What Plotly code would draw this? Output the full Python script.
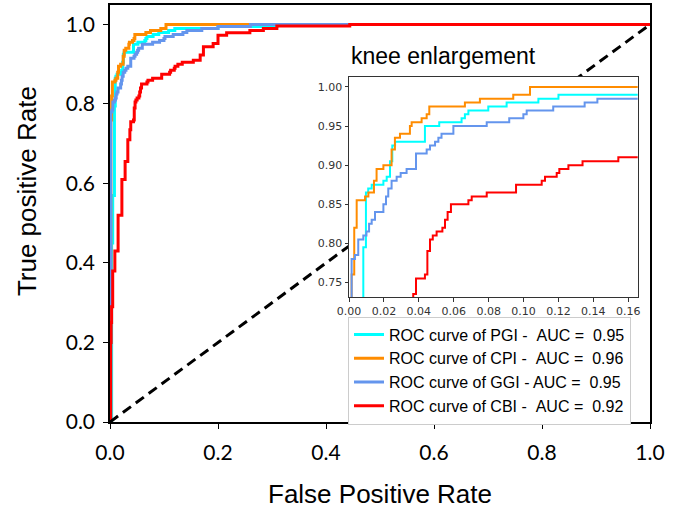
import plotly.graph_objects as go

# ---------------- data ----------------
series_names = ["PGI", "CPI", "GGI", "CBI"]
auc_values = ["0.95", "0.96", "0.95", "0.92"]

fpr_pgi = [0, 0.003, 0.005, 0.0082, 0.0097, 0.011, 0.013, 0.0197, 0.0216, 0.0235, 0.0248, 0.0264,
           0.0435, 0.0517, 0.0645, 0.0664, 0.0684, 0.0798, 0.0903, 0.1085, 0.12, 0.2, 0.309, 1.0]
tpr_pgi = [0, 0.45, 0.57, 0.795, 0.865, 0.87, 0.875, 0.88, 0.885, 0.905, 0.925, 0.93,
           0.95, 0.955, 0.96, 0.965, 0.97, 0.975, 0.98, 0.985, 0.99, 0.995, 1.0, 1.0]

fpr_cpi = [0, 0.0015, 0.003, 0.0044, 0.0092, 0.0111, 0.0143, 0.0158, 0.0197, 0.0244, 0.0263, 0.0292,
           0.0349, 0.0359, 0.0416, 0.0445, 0.046, 0.0664, 0.075, 0.0941, 0.1037, 1.0]
tpr_cpi = [0, 0.76, 0.82, 0.855, 0.86, 0.865, 0.88, 0.895, 0.9, 0.92, 0.935, 0.94,
           0.95, 0.955, 0.96, 0.965, 0.975, 0.98, 0.985, 0.99, 1.0, 1.0]

fpr_ggi = [0, 0.0015, 0.0034, 0.0053, 0.0082, 0.01, 0.0115, 0.013, 0.0149, 0.0197, 0.0212, 0.0225,
           0.0244, 0.0273, 0.0296, 0.033, 0.0384, 0.0445, 0.0464, 0.0493, 0.0512, 0.053, 0.0598,
           0.0789, 0.0918, 0.0999, 0.1018, 0.117, 0.135, 0.1423, 0.17, 0.2, 0.26, 1.0]
tpr_ggi = [0, 0.78, 0.785, 0.805, 0.81, 0.815, 0.825, 0.83, 0.84, 0.85, 0.86, 0.87,
           0.88, 0.885, 0.89, 0.895, 0.915, 0.92, 0.925, 0.93, 0.935, 0.94, 0.95,
           0.955, 0.96, 0.965, 0.97, 0.975, 0.98, 0.985, 0.99, 0.995, 1.0, 1.0]

fpr_cbi = [0, 0.001, 0.002, 0.003, 0.005, 0.009, 0.015, 0.022, 0.028, 0.033, 0.0368, 0.0384,
           0.0435, 0.0449, 0.0464, 0.048, 0.0502, 0.0535, 0.055, 0.0565, 0.0584, 0.0684, 0.0703,
           0.0789, 0.0957, 0.1104, 0.1123, 0.119, 0.1205, 0.1257, 0.1338, 0.1543, 0.167, 0.173,
           0.191, 0.2, 0.216, 0.259, 0.284, 0.309, 0.444, 1.0]
tpr_cbi = [0, 0.2, 0.25, 0.29, 0.38, 0.43, 0.52, 0.61, 0.655, 0.71, 0.735, 0.755,
           0.76, 0.79, 0.805, 0.81, 0.815, 0.82, 0.83, 0.84, 0.85, 0.855, 0.86,
           0.865, 0.875, 0.88, 0.885, 0.89, 0.895, 0.9, 0.905, 0.91, 0.923, 0.944,
           0.952, 0.973, 0.979, 0.985, 0.99, 0.996, 1.0, 1.0]

chance_x = [0, 1]
chance_y = [0, 1]

main_ticks = [0.0, 0.2, 0.4, 0.6, 0.8, 1.0]
inset_x_ticks = [0.0, 0.02, 0.04, 0.06, 0.08, 0.10, 0.12, 0.14, 0.16]
inset_y_ticks = [0.75, 0.80, 0.85, 0.90, 0.95, 1.00]

colors = ["#00FFFF", "#FF8C00", "#6495ED", "#FF0000"]
NB = "\u00a0"
legend_labels = [
    f"ROC curve of PGI -{NB}{NB}AUC ={NB}{NB}0.95",
    f"ROC curve of CPI -{NB}{NB}AUC ={NB}{NB}0.96",
    f"ROC curve of GGI - AUC ={NB}{NB}0.95",
    f"ROC curve of CBI -{NB}{NB}AUC ={NB}{NB}0.92",
]
curves = [(fpr_pgi, tpr_pgi), (fpr_cpi, tpr_cpi), (fpr_ggi, tpr_ggi), (fpr_cbi, tpr_cbi)]

fig = go.Figure()

# main curves
for (fx, ty), c, lab in zip(curves, colors, legend_labels):
    fig.add_trace(go.Scatter(x=fx, y=ty, mode="lines", line=dict(color=c, width=3, shape="hv"),
                             name=lab, xaxis="x", yaxis="y"))

fig.add_trace(go.Scatter(x=chance_x, y=chance_y, mode="lines",
                         line=dict(color="black", width=3, dash="10px,6px"),
                         showlegend=False, xaxis="x", yaxis="y", hoverinfo="skip"))

# inset background (hides main-plot content underneath)
fig.add_trace(go.Scatter(x=[-1, 1, 1, -1], y=[0, 0, 2, 2], fill="toself", fillcolor="white",
                         mode="lines", line=dict(width=0, color="white"),
                         showlegend=False, xaxis="x2", yaxis="y2", hoverinfo="skip"))

for (fx, ty), c in zip(curves, colors):
    fig.add_trace(go.Scatter(x=fx, y=ty, mode="lines", line=dict(color=c, width=2, shape="hv"),
                             showlegend=False, xaxis="x2", yaxis="y2"))

L, R, T, B = 110, 41, 3, 91
W, H = 691, 513
pw, ph = W - L - R, H - T - B


def px_x(p):
    return (p - L) / pw


def px_y(p):
    return (H - B - p) / ph


main_tickfont = dict(family="Lato, Open Sans, sans-serif", size=21, color="black")
inset_tickfont = dict(family="DejaVu Sans", size=11, color="#333")

fig.update_layout(
    width=W, height=H,
    margin=dict(l=L, r=R, t=T, b=B),
    paper_bgcolor="white", plot_bgcolor="white",
    xaxis=dict(domain=[0, 1], range=[0, 1], tickvals=main_ticks, tickformat=".1f",
               showline=True, mirror=True, linecolor="black", linewidth=1.5,
               ticks="outside", ticklen=5, tickcolor="black", tickwidth=1.2,
               showgrid=False, zeroline=False, tickfont=main_tickfont, ticklabelstandoff=6),
    yaxis=dict(domain=[0, 1], range=[0, 1.049], tickvals=main_ticks, tickformat=".1f",
               showline=True, mirror=True, linecolor="black", linewidth=1.5,
               ticks="outside", ticklen=5, tickcolor="black", tickwidth=1.2,
               showgrid=False, zeroline=False, tickfont=main_tickfont, ticklabelstandoff=4),
    xaxis2=dict(domain=[px_x(349), px_x(637.7)], anchor="y2", range=[0, 0.1654],
                tickvals=inset_x_ticks, tickformat=".2f",
                showline=True, mirror=True, linecolor="#333", linewidth=1,
                ticks="outside", ticklen=3.5, tickcolor="#333", tickwidth=1,
                showgrid=False, zeroline=False, tickfont=inset_tickfont),
    yaxis2=dict(domain=[px_y(296.7), px_y(75)], anchor="x2", range=[0.7309, 1.0132],
                tickvals=inset_y_ticks, tickformat=".2f",
                showline=True, mirror=True, linecolor="#333", linewidth=1,
                ticks="outside", ticklen=3.5, tickcolor="#333", tickwidth=1,
                showgrid=False, zeroline=False, tickfont=inset_tickfont),
    legend=dict(x=px_x(348), y=px_y(316), xanchor="left", yanchor="top",
                bgcolor="white", bordercolor="#cccccc", borderwidth=1,
                font=dict(family="Liberation Sans, Arial, sans-serif", size=16, color="black"),
                itemwidth=30, traceorder="normal"),
    showlegend=True,
    annotations=[
        dict(text="False Positive Rate", xref="paper", yref="paper",
             x=px_x(380), y=px_y(494), xanchor="center", yanchor="middle", showarrow=False,
             font=dict(family="Liberation Sans, Arial, sans-serif", size=26, color="black")),
        dict(text="True positive Rate", xref="paper", yref="paper", textangle=-90,
             x=px_x(27), y=px_y(190), xanchor="center", yanchor="middle", showarrow=False,
             font=dict(family="Liberation Sans, Arial, sans-serif", size=26, color="black")),
        dict(text="knee enlargement", xref="paper", yref="paper",
             x=px_x(349), y=px_y(54), xanchor="left", yanchor="middle", showarrow=False,
             font=dict(family="Liberation Sans, Arial, sans-serif", size=23, color="black")),
    ],
)

fig.write_html("out.html", config={"displayModeBar": False},
               post_script="document.body.style.margin='0px';document.body.style.overflow='hidden';")
